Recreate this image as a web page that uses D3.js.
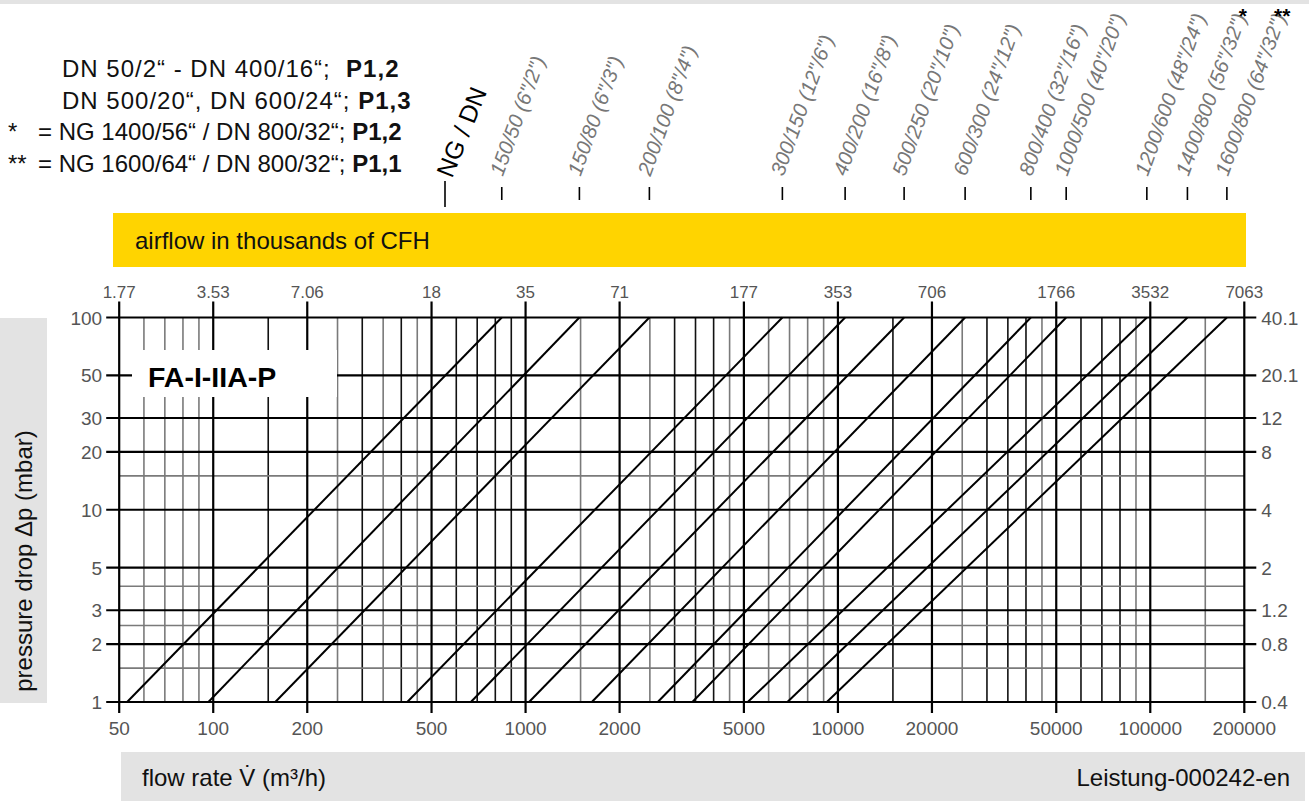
<!DOCTYPE html>
<html>
<head>
<meta charset="utf-8">
<script src="https://d3js.org/d3.v7.min.js"></script>
<style>
  body { margin: 0; background: #fff; }
  svg text { font-family: Arial, "Liberation Sans", sans-serif; }
</style>
</head>
<body>
<div id="chart"></div>
<script>
// flow axis (m³/h) and the same ticks in thousands of CFH
const flowTicks = [50, 100, 200, 500, 1000, 2000, 5000, 10000, 20000, 50000, 100000, 200000];
const cfhLabels = ["1.77", "3.53", "7.06", "18", "35", "71", "177", "353", "706", "1766", "3532", "7063"];
const flowGridBlack = [150, 300, 400, 600, 700, 800, 900, 3000, 3500, 4000, 15000, 30000, 35000, 40000, 60000, 70000, 80000];
const flowGridGray = [60, 70, 80, 90, 250, 350, 450, 1500, 2500, 4500, 6000, 7000, 8000, 9000, 25000, 45000, 90000, 150000];

// pressure drop axis (mbar) and the same ticks in inches of water column
const dpTicks = [1, 2, 3, 5, 10, 20, 30, 50, 100];
const inchLabels = ["0.4", "0.8", "1.2", "2", "4", "8", "12", "20.1", "40.1"];
const dpGridGray = [1.5, 2.5, 4, 15];

// one characteristic per size: flow at 1 mbar and flow at 100 mbar
const sizeLabels = ["150/50 (6\"/2\")", "150/80 (6\"/3\")", "200/100 (8\"/4\")", "300/150 (12\"/6\")",
  "400/200 (16\"/8\")", "500/250 (20\"/10\")", "600/300 (24\"/12\")", "800/400 (32\"/16\")",
  "1000/500 (40\"/20\")", "1200/600 (48\"/24\")", "1400/800 (56\"/32\")", "1600/800 (64\"/32\")"];
const sizeMarks = ["", "", "", "", "", "", "", "", "", "", "*", "**"];
const flowAt1 = [53, 96.5, 158, 418, 668, 1026, 1630, 2650, 3420, 5145, 6890, 9215];
const flowAt100 = [839, 1487, 2491, 6640, 10545, 16290, 25540, 41460, 53800, 97500, 131500, 175900];

const legendMarks = ["", "", "*", "**"];
const legendTexts = ["DN 50/2“ - DN 400/16“;\u00a0\u00a0", "DN 500/20“, DN 600/24“; ",
  "= NG 1400/56“ / DN 800/32“; ", "= NG 1600/64“ / DN 800/32“; "];
const legendBold = ["P1,2", "P1,3", "P1,2", "P1,1"];

const width = 1309, height = 801;
const svg = d3.select("#chart").append("svg")
  .attr("width", width).attr("height", height);

const x = d3.scaleLog().domain([50, 200000]).range([119.2, 1244.3]);
const y = d3.scaleLog().domain([1, 100]).range([702, 317.5]);
const xl = x.range()[0], xr = x.range()[1];
const yb = y.range()[0], yt = y.range()[1];

// background bands
svg.append("rect").attr("x", 0).attr("y", 0).attr("width", width).attr("height", 4).attr("fill", "#e3e3e3");
svg.append("rect").attr("x", 113).attr("y", 213).attr("width", 1133).attr("height", 54).attr("fill", "#ffd400");
svg.append("text").attr("x", 135).attr("y", 249).attr("font-size", 24).attr("fill", "#111")
  .text("airflow in thousands of CFH");
svg.append("rect").attr("x", 0).attr("y", 318).attr("width", 47).attr("height", 385).attr("fill", "#e3e3e3");
svg.append("text").attr("transform", "translate(32,561) rotate(-90)").attr("text-anchor", "middle")
  .attr("font-size", 24).attr("fill", "#111").text("pressure drop Δp (mbar)");
svg.append("rect").attr("x", 121).attr("y", 752).attr("width", 1184).attr("height", 49).attr("fill", "#e3e3e3");
svg.append("text").attr("x", 142).attr("y", 786).attr("font-size", 24).attr("fill", "#111").text("flow rate V̇ (m³/h)");
svg.append("text").attr("x", 1290).attr("y", 786).attr("text-anchor", "end").attr("font-size", 24).attr("fill", "#111")
  .text("Leistung-000242-en");

// legend
const leg = svg.append("g");
legendTexts.forEach((txt, i) => {
  const by = 77 + i * 31.6;
  if (legendMarks[i]) leg.append("text").attr("x", 8).attr("y", by).attr("font-size", 24).attr("fill", "#111").text(legendMarks[i]);
  const t = leg.append("text").attr("x", legendMarks[i] ? 38 : 62).attr("y", by).attr("font-size", 24).attr("fill", "#111");
  if (i < 2) t.attr("letter-spacing", 1);
  t.append("tspan").text(txt);
  t.append("tspan").attr("font-weight", "bold").text(legendBold[i]);
});

// grid
const grid = svg.append("g");
grid.selectAll(".vg").data(flowGridGray).join("line")
  .attr("x1", d => x(d)).attr("x2", d => x(d)).attr("y1", yt).attr("y2", yb)
  .attr("stroke", "#7a7a7a").attr("stroke-width", 1.6);
grid.selectAll(".vb").data(flowGridBlack).join("line")
  .attr("x1", d => x(d)).attr("x2", d => x(d)).attr("y1", yt).attr("y2", yb)
  .attr("stroke", "#111").attr("stroke-width", 1.6);
grid.selectAll(".hg").data(dpGridGray).join("line")
  .attr("x1", xl).attr("x2", xr).attr("y1", d => y(d)).attr("y2", d => y(d))
  .attr("stroke", "#7a7a7a").attr("stroke-width", 1.6);
grid.selectAll(".vm").data(flowTicks).join("line")
  .attr("x1", d => x(d)).attr("x2", d => x(d)).attr("y1", yt - 16).attr("y2", yb + 11)
  .attr("stroke", "#000").attr("stroke-width", 2.2);
grid.selectAll(".hm").data(dpTicks).join("line")
  .attr("x1", xl - 13).attr("x2", xr + 12).attr("y1", d => y(d)).attr("y2", d => y(d))
  .attr("stroke", "#000").attr("stroke-width", 2.2);

// tick labels
const axisText = svg.append("g").attr("fill", "#555");
axisText.selectAll(".tt").data(flowTicks).join("text")
  .attr("x", d => x(d)).attr("y", yt - 20).attr("text-anchor", "middle").attr("font-size", 17)
  .text((d, i) => cfhLabels[i]);
axisText.selectAll(".bt").data(flowTicks).join("text")
  .attr("x", d => x(d)).attr("y", yb + 33).attr("text-anchor", "middle").attr("font-size", 19)
  .text(d => d);
axisText.selectAll(".lt").data(dpTicks).join("text")
  .attr("x", xl - 17).attr("y", d => y(d) + 7).attr("text-anchor", "end").attr("font-size", 19)
  .text(d => d);
axisText.selectAll(".rt").data(dpTicks).join("text")
  .attr("x", xr + 17).attr("y", d => y(d) + 7).attr("font-size", 19)
  .text((d, i) => inchLabels[i]);

// characteristic lines
const curves = flowAt1.map((q, i) => [[q, 1], [flowAt100[i], 100]]);
const line = d3.line().x(d => x(d[0])).y(d => y(d[1]));
svg.append("g").selectAll("path").data(curves).join("path")
  .attr("d", line).attr("fill", "none").attr("stroke", "#000").attr("stroke-width", 2);

// type label box
svg.append("rect").attr("x", 132).attr("y", 350).attr("width", 205).attr("height", 47).attr("fill", "#fff");
svg.append("text").attr("x", 148).attr("y", 387).attr("font-size", 28.5).attr("font-weight", "bold")
  .attr("fill", "#000").text("FA-I-IIA-P");

// size labels above the chart
const sizes = svg.append("g");
sizes.selectAll("line").data(flowAt100).join("line")
  .attr("x1", d => x(d)).attr("x2", d => x(d)).attr("y1", 187).attr("y2", 200)
  .attr("stroke", "#000").attr("stroke-width", 1.6);
const ang = -70;
const labs = sizes.selectAll("text.size").data(flowAt100).join("text")
  .attr("class", "size")
  .attr("transform", d => `translate(${x(d) + 1},177) rotate(${ang})`)
  .attr("font-size", 20.5).attr("font-style", "italic").attr("fill", "#777")
  .text((d, i) => sizeLabels[i]);
labs.each(function(d, i) {
  if (!sizeMarks[i]) return;
  const len = this.getComputedTextLength();
  const r = ang * Math.PI / 180;
  sizes.append("text")
    .attr("x", x(d) + 1 + len * Math.cos(r) - 4)
    .attr("y", 177 + len * Math.sin(r) + 6)
    .attr("text-anchor", "middle").attr("font-size", 21).attr("font-weight", "bold").attr("fill", "#000")
    .text(sizeMarks[i]);
});
svg.append("line").attr("x1", 445).attr("x2", 445).attr("y1", 181).attr("y2", 207)
  .attr("stroke", "#000").attr("stroke-width", 1.6);
svg.append("text").attr("transform", "translate(452,179) rotate(-68)")
  .attr("font-size", 25).attr("fill", "#000").text("NG / DN");
</script>
</body>
</html>
